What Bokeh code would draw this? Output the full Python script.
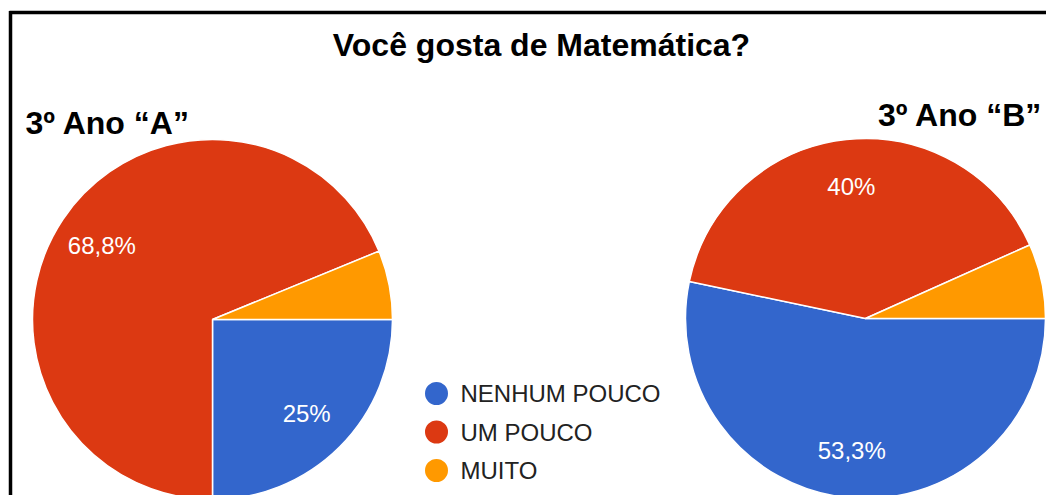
import math
from bokeh.plotting import figure
from bokeh.models import Range1d
from bokeh.core.properties import value
from bokeh.embed import file_html
from bokeh.resources import INLINE

# ---------------- data ----------------
categories = ["NENHUM POUCO", "UM POUCO", "MUITO"]
turma_a = [25.0, 68.8, 6.2]
turma_b = [53.3, 40.0, 6.7]
colors = ["#3366CC", "#DC3912", "#FF9900"]
title = "Você gosta de Matemática?"
label_a = "3º Ano “A”"
label_b = "3º Ano “B”"

# ---------------- layout (image pixel coordinates) ----------------
W, H = 1046, 495


def Y(img_y):
    return -img_y


p = figure(width=W, height=H, output_backend="svg", toolbar_location=None,
           x_range=Range1d(0, W), y_range=Range1d(-H, 0),
           x_axis_location=None, y_axis_location=None, min_border=0)
p.grid.visible = False
p.outline_line_color = None
p.background_fill_color = "white"
p.border_fill_color = "white"

# black frame (top + left)
p.line(x=[9, W + 10], y=[Y(12), Y(12)], line_color="black", line_width=3.5)
p.line(x=[10, 10], y=[Y(10.5), Y(H + 10)], line_color="black", line_width=3.5)

FONT = "Liberation Sans"


def fmt(v):
    return f"{v:g}".replace(".", ",") + "%"


R = 180


def pie(cx, cy, vals):
    total = sum(vals)
    cum = 0.0
    starts, ends, lx, ly, lt = [], [], [], [], []
    for v in vals:
        f0 = cum / total
        f1 = (cum + v) / total
        starts.append(-2 * math.pi * f0)
        ends.append(-2 * math.pi * f1)
        mid = -2 * math.pi * (f0 + f1) / 2
        if v / total >= 0.1:
            lx.append(cx + 0.74 * R * math.cos(mid))
            ly.append(Y(cy) + 0.74 * R * math.sin(mid))
            lt.append(fmt(v))
        cum += v
    p.wedge(x=[cx] * len(vals), y=[Y(cy)] * len(vals), radius=R,
            start_angle=starts, end_angle=ends, direction="clock",
            fill_color=colors, line_color="white", line_width=1.5)
    p.text(x=lx, y=ly, text=lt, text_align="center", text_baseline="middle",
           text_color="white", text_font=value(FONT), text_font_size="24px")


pie(212, 319, turma_a)
pie(865, 318, turma_b)

# titles
p.text(x=[541], y=[Y(44)], text=[title], text_align="center",
       text_baseline="alphabetic", text_color="black", text_font=value(FONT),
       text_font_style="bold", text_font_size="32px")
p.text(x=[25], y=[Y(122)], text=[label_a], text_align="left",
       text_baseline="alphabetic", text_color="black", text_font=value(FONT),
       text_font_style="bold", text_font_size="32px")
p.text(x=[1042], y=[Y(114)], text=[label_b], text_align="right",
       text_baseline="alphabetic", text_color="black", text_font=value(FONT),
       text_font_style="bold", text_font_size="32px")

# legend
leg_y = [Y(393 + 38.5 * i) for i in range(len(categories))]
p.scatter(x=[436] * len(categories), y=leg_y, size=23, marker="circle",
          fill_color=colors, line_color=None)
p.text(x=[460] * len(categories), y=leg_y, text=categories, text_align="left",
       text_baseline="middle", text_color="#222222", text_font=value(FONT),
       text_font_size="24px")

open("out.html", "w").write(file_html(p, INLINE))
